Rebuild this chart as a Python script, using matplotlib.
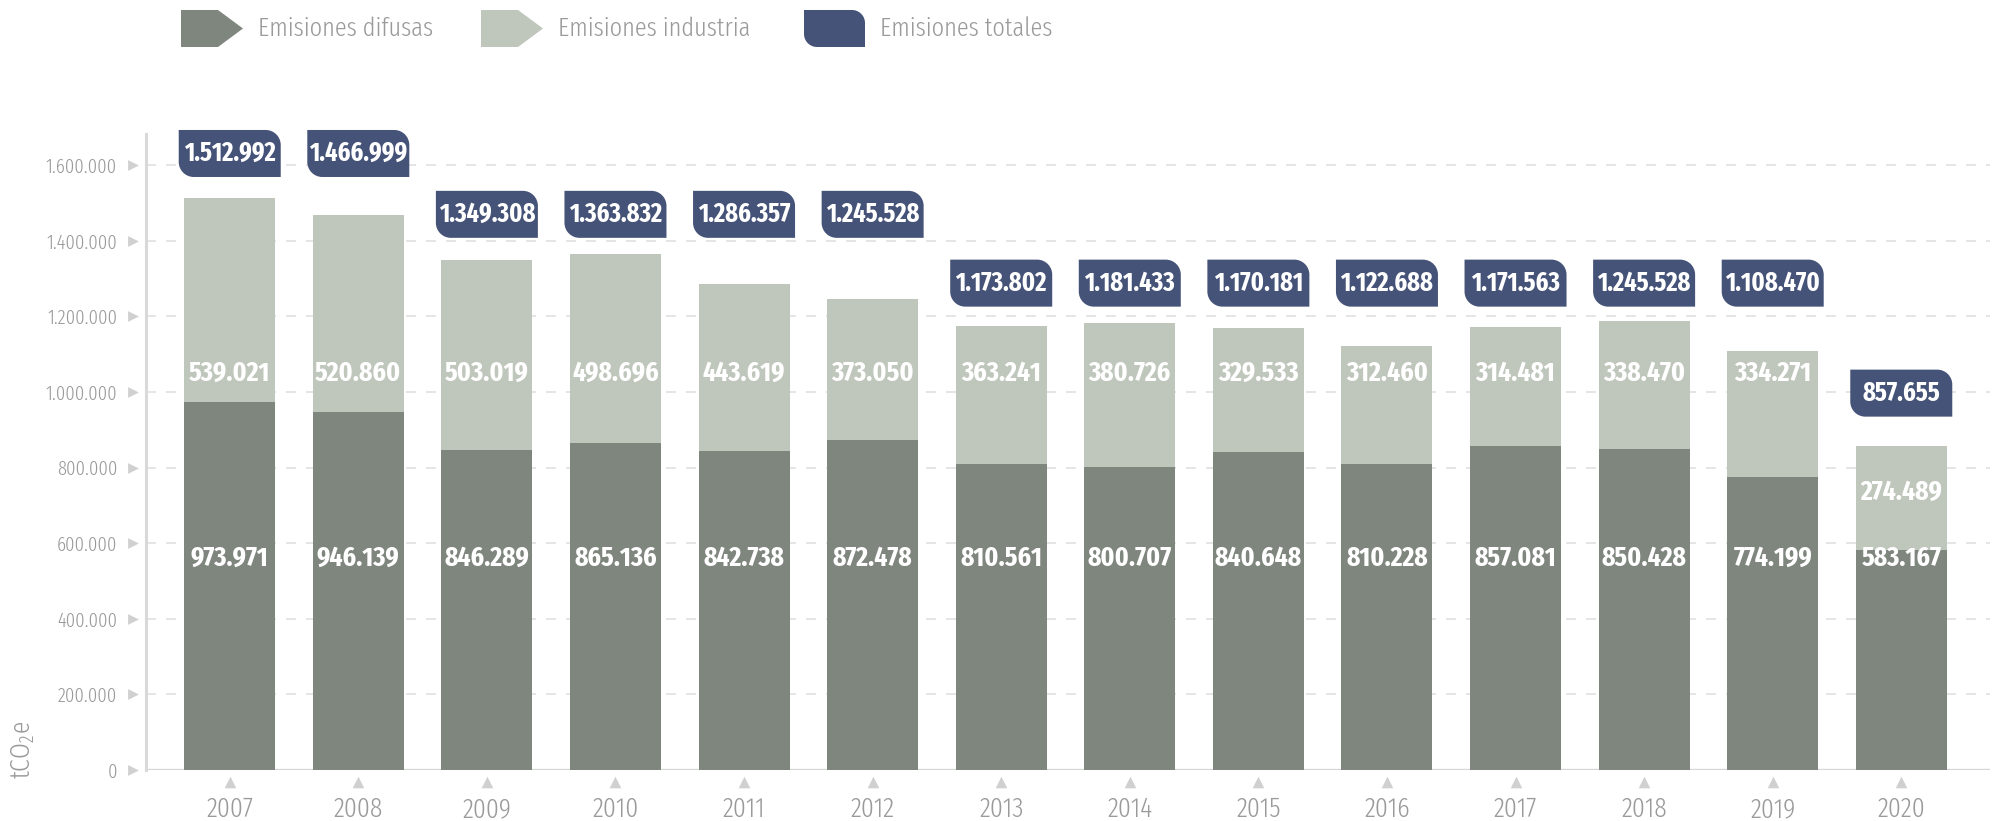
import matplotlib
matplotlib.use("Agg")
import matplotlib.pyplot as plt
import matplotlib.transforms as mtransforms
from matplotlib.path import Path
from matplotlib.patches import PathPatch, Polygon
from matplotlib import font_manager

# ---------------- data ----------------
years = ["2007", "2008", "2009", "2010", "2011", "2012", "2013",
         "2014", "2015", "2016", "2017", "2018", "2019", "2020"]
difusas = [973971, 946139, 846289, 865136, 842738, 872478, 810561,
           800707, 840648, 810228, 857081, 850428, 774199, 583167]
industria = [539021, 520860, 503019, 498696, 443619, 373050, 363241,
             380726, 329533, 312460, 314481, 338470, 334271, 274489]
totales_labels = ["1.512.992", "1.466.999", "1.349.308", "1.363.832", "1.286.357",
                  "1.245.528", "1.173.802", "1.181.433", "1.170.181", "1.122.688",
                  "1.171.563", "1.245.528", "1.108.470", "857.655"]
yticks = [0, 200000, 400000, 600000, 800000, 1000000, 1200000, 1400000, 1600000]
series_names = ["Emisiones difusas", "Emisiones industria", "Emisiones totales"]

# ---------------- style / layout ----------------
C_DIF = "#7f867e"
C_IND = "#bfc6bb"
C_TOT = "#465378"
C_TXT = "#9a9a9a"
C_TRI = "#d0d0d0"

names = {f.name for f in font_manager.fontManager.ttflist}
FONT = "DejaVu Sans"
for cand in ["Fira Sans Extra Condensed", "Fira Sans Condensed", "Roboto Condensed",
             "Liberation Sans Narrow", "Liberation Sans"]:
    if cand in names:
        FONT = cand
        break
plt.rcParams["font.family"] = [FONT, "DejaVu Sans"]

W, H = 2001, 821
fig = plt.figure(figsize=(W / 100, H / 100), dpi=100)
ax_l, ax_r, ax_b, ax_t = 145.5, 1990, 770, 134
ax = fig.add_axes([ax_l / W, (H - ax_b) / H, (ax_r - ax_l) / W, (ax_b - ax_t) / H])

n = len(years)
xs = list(range(n))
ax.set_xlim(-0.655, 13.69)
ymax = (ax_b - ax_t) / 378.0 * 1e6
ax.set_ylim(0, ymax)

def fmt(v):
    return f"{v:,}".replace(",", ".")

# gridlines
for yt in yticks[1:]:
    ax.axhline(yt, color="#e0e0e0", lw=1.2, ls=(0, (6, 6)), zorder=0)
ax.axhline(0, color="#d6d6d6", lw=2.4, zorder=1)

bw = 0.708
ax.bar(xs, difusas, width=bw, color=C_DIF, zorder=2)
ax.bar(xs, industria, width=bw, bottom=difusas, color=C_IND, zorder=2)

# segment labels
for i in xs:
    ax.text(i, 561000, fmt(difusas[i]), ha="center", va="center",
            color="white", fontsize=20, fontweight="bold", zorder=4)
    top = difusas[i] + industria[i]
    yl = 1050000 if top > 1000000 else difusas[i] + industria[i] / 2 + 15000
    ax.text(i, yl, fmt(industria[i]), ha="center", va="center",
            color="white", fontsize=20, fontweight="bold", zorder=4)

# total label boxes (leaf-shaped)
def leaf_path(w, h, r):
    k = 0.5523 * r
    hw, hh = w / 2, h / 2
    verts = [(-hw, hh), (hw - r, hh),
             (hw - r + k, hh), (hw, hh - r + k), (hw, hh - r),
             (hw, -hh), (-hw + r, -hh),
             (-hw + r - k, -hh), (-hw, -hh + r - k), (-hw, -hh + r),
             (-hw, hh), (-hw, hh)]
    codes = [Path.MOVETO, Path.LINETO,
             Path.CURVE4, Path.CURVE4, Path.CURVE4,
             Path.LINETO, Path.LINETO,
             Path.CURVE4, Path.CURVE4, Path.CURVE4,
             Path.LINETO, Path.CLOSEPOLY]
    return Path(verts, codes)

box_levels = [1631000, 1631000, 1470000, 1470000, 1470000, 1470000, 1288000,
              1288000, 1288000, 1288000, 1288000, 1288000, 1288000, 997000]
bpath = leaf_path(1.02, 0.47, 0.15)
for i in xs:
    tr = fig.dpi_scale_trans + mtransforms.ScaledTranslation(i, box_levels[i], ax.transData)
    p = PathPatch(bpath, transform=tr, facecolor=C_TOT, edgecolor="none", zorder=5, clip_on=False)
    ax.add_artist(p)
    ax.text(i, box_levels[i], totales_labels[i], ha="center", va="center", color="white",
            fontsize=19, fontweight="bold", zorder=6, clip_on=False)

# axes styling
for s in ["top", "right", "bottom"]:
    ax.spines[s].set_visible(False)
ax.spines["left"].set_color("#d9d9d9")
ax.spines["left"].set_linewidth(2.2)
ax.set_yticks(yticks)
ax.set_yticklabels([fmt(v) for v in yticks])
ax.set_xticks(xs)
ax.set_xticklabels(years)
ax.tick_params(axis="y", length=0, pad=20.5, labelsize=14.5, labelcolor=C_TXT)
ax.tick_params(axis="x", length=0, pad=18.5, labelsize=20, labelcolor=C_TXT)
for lab in ax.get_yticklabels() + ax.get_xticklabels():
    lab.set_fontweight(300)

# tick triangles
ytr = mtransforms.blended_transform_factory(ax.transAxes, ax.transData)
ax.scatter([-(ax_l - 132.5) / (ax_r - ax_l)] * len(yticks), yticks, marker=">", s=60,
           color=C_TRI, transform=ytr, clip_on=False, zorder=3, linewidths=0)
xtr = mtransforms.blended_transform_factory(ax.transData, ax.transAxes)
ax.scatter(xs, [-12 / (ax_b - ax_t)] * n, marker="^", s=70, color=C_TRI,
           transform=xtr, clip_on=False, zorder=3, linewidths=0)

# y label
fig.text(23 / W, 1 - 750 / H, r"tCO$_\mathregular{2}$e", rotation=90, ha="center", va="center",
         color=C_TXT, fontsize=20, fontweight=300)

# ---------------- legend ----------------
pix = mtransforms.Affine2D().scale(1 / W, 1 / H) + fig.transFigure

def py(y):
    return H - y

def arrow_marker(x0, color):
    x1, x2 = x0 + 37, x0 + 62
    pts = [(x0, py(10)), (x1, py(10)), (x2, py(28.5)), (x1, py(47)), (x0, py(47))]
    fig.patches.append(Polygon(pts, closed=True, facecolor=color, edgecolor="none", transform=pix))

arrow_marker(181, C_DIF)
arrow_marker(481, C_IND)
lp = leaf_path(61, 37, 13)
tr = mtransforms.Affine2D().translate(804 + 30.5, py(28.5)) + pix
fig.patches.append(PathPatch(lp, transform=tr, facecolor=C_TOT, edgecolor="none"))

for x, name in zip([258, 558, 880], series_names):
    fig.text(x / W, py(29) / H, name, ha="left", va="center", color=C_TXT,
             fontsize=19, fontweight=300)

fig.savefig("out.png", dpi=100)
